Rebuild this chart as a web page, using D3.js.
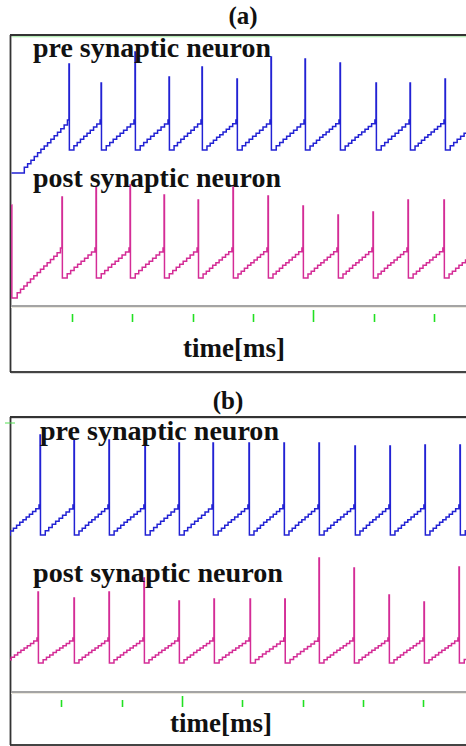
<!DOCTYPE html>
<html><head><meta charset="utf-8">
<script src="https://cdn.jsdelivr.net/npm/d3@7/dist/d3.min.js"></script>
<style>html,body{margin:0;padding:0;background:#fff;overflow:hidden}</style>
</head><body><svg id="c" width="466" height="746"></svg>
<script>
// ---------------- data (time in ms, membrane potential in mV) ----------------
const panelTitles = ["(a)", "(b)"];
const traceLabels = ["pre synaptic neuron", "post synaptic neuron"];
const axisLabel = "time[ms]";

const resetV = -70, thresholdV = -55, notchV = 2;

// panel (a)
const preA_spikes = [47.6, 74.2, 102.3, 130.5, 157.8, 186.8, 215.0, 243.2, 272.2, 302.0, 330.2, 359.2, 387.3];
const preA_peaks  = [-27, -36.5, -21, -33.5, -28.5, -34.5, -23.5, -24.5, -26.5, -36.5, -36.5, -34.5, -30];
const preA_lead   = [[0, -81.5], [6.2, -81.5]];
const postA_spikes = [41.8, 70.0, 98.2, 126.4, 154.6, 183.5, 212.5, 241.5, 270.5, 299.5, 328.5, 358.3, 388.0];
const postA_peaks  = [-29.5, -24.5, -23.5, -28.5, -31, -24.5, -29, -34, -38.5, -37, -31, -31, -30];
const postA_lead   = [[0, -33.5], [0.3, -80]];
const ticksA = [50, 100, 150, 200, 250, 300, 350];

// panel (b)
const preB_spikes = [103.5, 132.4, 160.5, 189.5, 219.3, 247.5, 275.7, 305.5, 334.5, 363.5, 393.3, 422.3, 451.3, 480.3, 509.0];
const preB_peaks  = [-24, -20, -22.5, -22.5, -24, -24, -24, -24, -24, -24, -25.5, -25.5, -25, -25, -25];
const preB_lead   = [[95, -70]];
const postB_spikes = [101.7, 130.7, 160.5, 189.5, 218.5, 247.5, 276.5, 306.4, 335.2, 363.5, 392.5, 421.5, 450.5, 479.5, 508.0];
const postB_peaks  = [-30, -27.4, -31, -27.4, -19, -32.8, -31.6, -31.6, -31.6, -7, -13, -29.2, -33.4, -12.4, -30];
const postB_lead   = [[93, -70]];
const ticksB = [150, 200, 250, 300, 350, 400, 450];
const majorTick = 250;

// shape of the sub-threshold charging between spikes (fraction of interval -> fraction of rise)
const rampShapeX = [0, 0.06, 0.2, 0.4, 0.6, 0.8, 1];
const rampShapeY = [0, 0.06, 0.2, 0.41, 0.6, 0.8, 1];
const synapticStepMs = 3; // spacing of the small input steps

// ---------------- drawing ----------------
const svg = d3.select("#c");
svg.append("rect").attr("width",466).attr("height",746).attr("fill","#fff");
const FONT = "'Liberation Serif','Times New Roman',serif";
const preColor = "#2222d4", postColor = "#d42c96";
const ramp = d3.scaleLinear().domain(rampShapeX).range(rampShapeY);

function buildTrace(spikes, peaks, lead) {
  const pts = lead.map(d => d.slice());
  let [lt, lv] = pts[pts.length - 1];
  spikes.forEach((ts, i) => {
    const dur = ts - lt;
    const n = Math.max(3, Math.round(dur / synapticStepMs));
    pts.push([lt + 0.04 * dur, lv]);
    for (let k = 1; k < n; k++) {
      const f = 0.04 + 0.93 * k / n;
      pts.push([lt + f * dur, lv + ramp(f) * (thresholdV - lv)]);
    }
    pts.push([lt + 0.97 * dur, thresholdV]);
    pts.push([ts, thresholdV + notchV]);
    pts.push([ts + 0.01, peaks[i]]);
    pts.push([ts + 0.35, resetV]);
    lt = ts + 0.35; lv = resetV;
  });
  return pts;
}

const panels = [
  { title: panelTitles[0], titleX: 243, titleY: 24, top: 35, bottom: 372, axisY: 306,
    tickShort: [8,16], tickLong: [4,16], domain: [0, 377], range: [11.5, 466.5], clipX: 11,
    labelY: 357, labelX: 234, ticks: ticksA, greenTop: true,
    traces: [
      { spikes: preA_spikes, peaks: preA_peaks, lead: preA_lead, yr: [150, 120], color: preColor,
        label: traceLabels[0], lx: 33, ly: 57, lw: 238 },
      { spikes: postA_spikes, peaks: postA_peaks, lead: postA_lead, yr: [278, 248], color: postColor,
        label: traceLabels[1], lx: 33, ly: 187, lw: 248 } ] },
  { title: panelTitles[1], titleX: 228, titleY: 409, top: 417, bottom: 745, axisY: 692,
    tickShort: [8,15], tickLong: [4,15], domain: [108, 485], range: [10.6, 465.6], clipX: 10,
    labelY: 732, labelX: 221, ticks: ticksB, greenTop: false,
    traces: [
      { spikes: preB_spikes, peaks: preB_peaks, lead: preB_lead, yr: [535, 505], color: preColor,
        label: traceLabels[0], lx: 40, ly: 440, lw: 239 },
      { spikes: postB_spikes, peaks: postB_peaks, lead: postB_lead, yr: [663, 638], color: postColor,
        label: traceLabels[1], lx: 33, ly: 582, lw: 250 } ] }
];

panels.forEach((p, pi) => {
  const x = d3.scaleLinear().domain(p.domain).range(p.range);
  const g = svg.append("g");
  const clipId = "clip" + pi;
  svg.append("clipPath").attr("id", clipId).append("rect")
    .attr("x", p.clipX).attr("y", p.top).attr("width", 466 - p.clipX).attr("height", p.bottom - p.top);

  // title
  g.append("text").attr("x", p.titleX).attr("y", p.titleY).attr("text-anchor","middle")
    .attr("font-family", FONT).attr("font-weight","bold").attr("font-size", 25).attr("fill","#111")
    .text(p.title);

  // frame
  const frame = g.append("g");
  frame.append("line").attr("x1",11).attr("x2",466).attr("y1",p.top+1.2).attr("y2",p.top+1.2).attr("stroke","#c8c8c8").attr("stroke-width",1);
  frame.append("line").attr("x1",11).attr("x2",466).attr("y1",p.bottom+1.2).attr("y2",p.bottom+1.2).attr("stroke","#c8c8c8").attr("stroke-width",1);
  if (p.greenTop) frame.append("line").attr("x1",12).attr("x2",466).attr("y1",p.top+1.8).attr("y2",p.top+1.8).attr("stroke","#a8f0a8").attr("stroke-width",1);
  frame.append("line").attr("x1",10).attr("x2",466).attr("y1",p.top).attr("y2",p.top).attr("stroke","#333").attr("stroke-width",1.8);
  frame.append("line").attr("x1",10).attr("x2",466).attr("y1",p.bottom).attr("y2",p.bottom).attr("stroke","#444").attr("stroke-width",1.8);
  frame.append("line").attr("x1",10.5).attr("x2",10.5).attr("y1",p.top).attr("y2",p.bottom).attr("stroke","#333").attr("stroke-width",1.8);
  if (!p.greenTop) frame.append("line").attr("x1",5).attr("x2",15).attr("y1",p.top+6).attr("y2",p.top+6).attr("stroke","#55e055").attr("stroke-width",1);

  // time axis
  g.append("line").attr("x1",11).attr("x2",466).attr("y1",p.axisY).attr("y2",p.axisY).attr("stroke","#a4a4a4").attr("stroke-width",1.8);
  g.append("line").attr("x1",11).attr("x2",466).attr("y1",p.axisY+1.5).attr("y2",p.axisY+1.5).attr("stroke","#ece9df").attr("stroke-width",1);
  g.selectAll(".tk").data(p.ticks).enter().append("line")
    .attr("x1", d => Math.round(x(d)) + 0.5).attr("x2", d => Math.round(x(d)) + 0.5)
    .attr("y1", d => p.axisY + (d === majorTick ? p.tickLong[0] : p.tickShort[0]))
    .attr("y2", d => p.axisY + (d === majorTick ? p.tickLong[1] : p.tickShort[1]))
    .attr("stroke","#22e022").attr("stroke-width",1.6);
  g.append("text").attr("x", p.labelX).attr("y", p.labelY).attr("text-anchor","middle")
    .attr("font-family", FONT).attr("font-weight","bold").attr("font-size", 27).attr("fill","#111")
    .text(axisLabel);

  // traces
  p.traces.forEach(tr => {
    const y = d3.scaleLinear().domain([resetV, thresholdV]).range(tr.yr);
    const line = d3.line().x(d => x(d[0])).y(d => y(d[1])).curve(d3.curveStepAfter);
    g.append("path").attr("clip-path", `url(#${clipId})`)
      .attr("d", line(buildTrace(tr.spikes, tr.peaks, tr.lead)))
      .attr("fill","none").attr("stroke", tr.color).attr("stroke-width",1.5).attr("stroke-linejoin","miter");
  });
  p.traces.forEach(tr => {
    g.append("text").attr("x", tr.lx).attr("y", tr.ly)
      .attr("font-family", FONT).attr("font-weight","bold").attr("font-size", 28).attr("fill","#111")
      .attr("textLength", tr.lw).attr("lengthAdjust","spacingAndGlyphs")
      .text(tr.label);
  });
});
</script></body></html>
